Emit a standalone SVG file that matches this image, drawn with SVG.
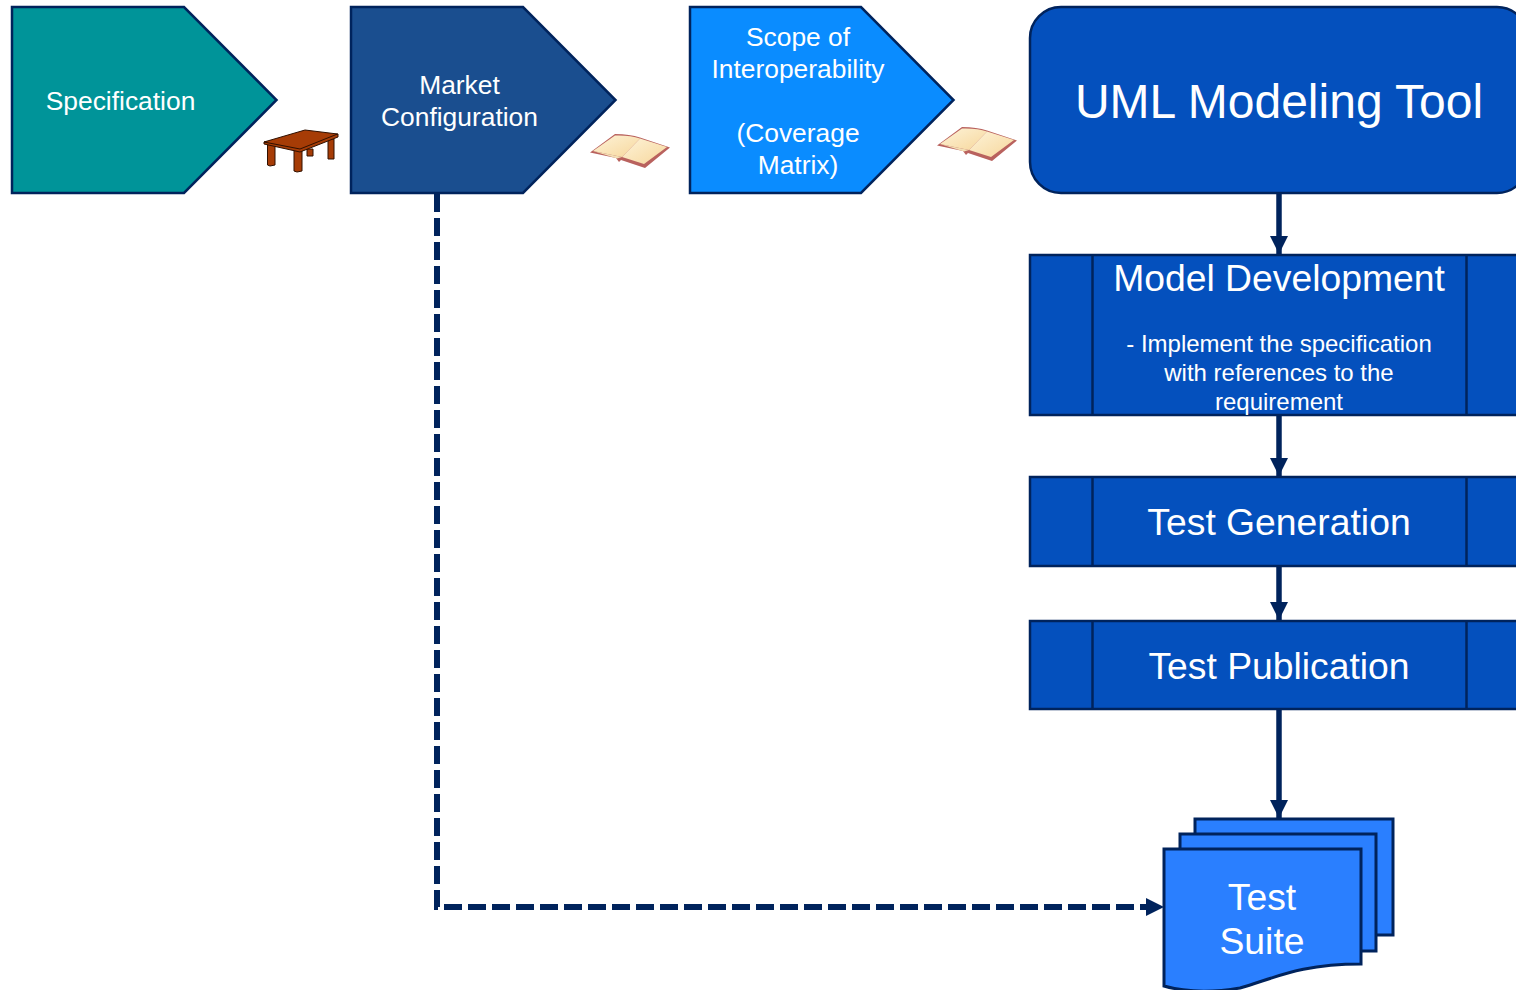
<svg xmlns="http://www.w3.org/2000/svg" width="1516" height="990" viewBox="0 0 1516 990">
<defs>
<linearGradient id="pg" x1="0" y1="0" x2="1" y2="1"><stop offset="0" stop-color="#fdf3d8"/><stop offset="1" stop-color="#f7d79c"/></linearGradient>
<marker id="ah" markerUnits="userSpaceOnUse" markerWidth="19" markerHeight="19" refX="18" refY="9.500" orient="auto"><path d="M0 0.500L18 9.500L0 18.500Z" fill="#00235c"/></marker>
<g id="book">
<path d="M0 18.500L25 0Q40 0 50 3.500L80 13.500L55 34L31 26L29 28L26 24Z" fill="#b9625e"/>
<path d="M3 17L25 1.500Q40 1 50 4.500L32 23Z" fill="url(#pg)"/>
<path d="M50 4.500L77 13L54 30L32 23Z" fill="url(#pg)"/>
<path d="M3 17L32 23L27 24.500Z" fill="#f3dfb4"/>
</g>
</defs>
<style>
text{font-family:"Liberation Sans",Arial,sans-serif;fill:#fff;text-anchor:middle}
.s{stroke:#00235c;stroke-width:2.5}
.t26{font-size:26.400px}.t38{font-size:37.300px}
.c{fill:none;stroke:#00235c;stroke-width:5.500}
.b{fill:#0450bd;stroke:#00235c;stroke-width:2.500}
.d{fill:#2a7fff;stroke:#00235c;stroke-width:3}
.w{fill:#a63c06;stroke:#301000;stroke-width:1}
</style>
<rect width="1516" height="990" fill="#fff"/>
<g id="connectors">
<path class="c" d="M1279 192V254" marker-end="url(#ah)"/>
<path class="c" d="M1279 414V476" marker-end="url(#ah)"/>
<path class="c" d="M1279 565V620" marker-end="url(#ah)"/>
<path class="c" d="M1279 709V818" marker-end="url(#ah)"/>
<path class="c" style="stroke-width:6" d="M437 194V907H1164" stroke-dasharray="18 6" marker-end="url(#ah)"/>
</g>
<g id="specification">
<path class="s" fill="#009499" d="M12 7H184L276.500 100L184 193H12Z"/>
<text x="120.500" y="110" class="t26">Specification</text>
</g>
<g id="table">
<path class="w" d="M307 149H313V156H307Z"/>
<path class="w" d="M328 139H334V159H328Z"/>
<path class="w" d="M267.500 143H275V165L270 166L267.500 165Z"/>
<path class="w" d="M294 150H302V171L297 172L294 171Z"/>
<path class="w" d="M264 142V144L300 152L338 137V134Z" fill="#8a3205"/>
<path class="w" d="M264 142L305 130L337.500 134L300 149Z"/>
</g>
<g id="market-configuration">
<path class="s" fill="#1a4e8f" d="M351 7H523L615.500 100L523 193H351Z"/>
<text x="459.500" y="94" class="t26">Market</text>
<text x="459.500" y="126" class="t26">Configuration</text>
</g>
<g id="book-1"><use href="#book" x="590" y="134"/></g>
<g id="scope-of-interoperability">
<path class="s" fill="#0a8cff" d="M690 7H861L953.500 100L861 193H690Z"/>
<text x="798" y="46" class="t26">Scope of</text>
<text x="798" y="78" class="t26">Interoperability</text>
<text x="798" y="142" class="t26">(Coverage</text>
<text x="798" y="174" class="t26">Matrix)</text>
</g>
<g id="book-2"><use href="#book" x="937" y="127"/></g>
<g id="uml-modeling-tool">
<rect class="b" x="1030" y="7" width="498" height="186" rx="31"/>
<text x="1279" y="118" font-size="48">UML Modeling Tool</text>
</g>
<g id="model-development">
<rect class="b" x="1030" y="255" width="498" height="160"/>
<path class="b" d="M1092.500 255V415M1466.500 255V415"/>
<text x="1279" y="291" class="t38">Model Development</text>
<text x="1279" y="352" font-size="24">- Implement the specification</text>
<text x="1279" y="381" font-size="24">with references to the</text>
<text x="1279" y="410" font-size="24">requirement</text>
</g>
<g id="test-generation">
<rect class="b" x="1030" y="477" width="498" height="89"/>
<path class="b" d="M1092.500 477V566M1466.500 477V566"/>
<text x="1279" y="535" class="t38">Test Generation</text>
</g>
<g id="test-publication">
<rect class="b" x="1030" y="621" width="498" height="88"/>
<path class="b" d="M1092.500 621V709M1466.500 621V709"/>
<text x="1279" y="679" class="t38">Test Publication</text>
</g>
<g id="test-suite">
<path class="d" d="M1195 819H1393V935H1195Z"/>
<path class="d" d="M1180 834H1376V951H1180Z"/>
<path class="d" d="M1164 849H1361V964C1300 964 1275 978 1240 988C1210 993 1185 992 1164 986Z"/>
<text x="1262" y="910" class="t38">Test</text>
<text x="1262" y="954" class="t38">Suite</text>
</g>
</svg>
